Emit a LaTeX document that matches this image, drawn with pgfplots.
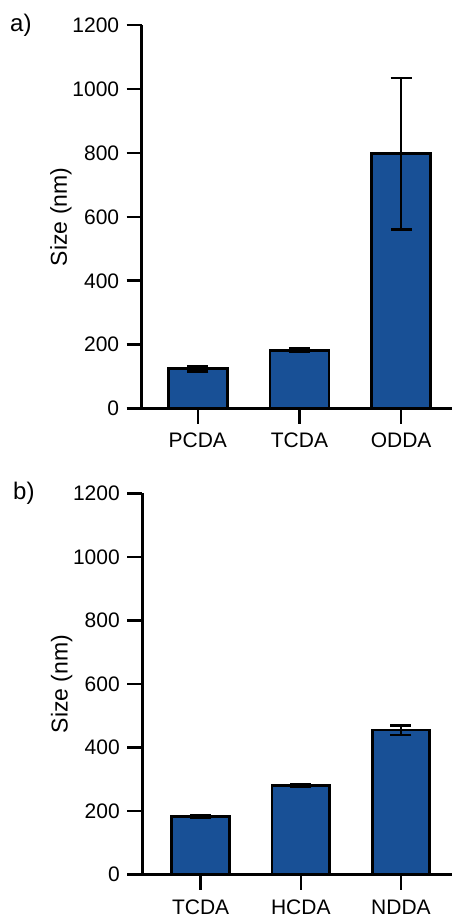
\documentclass[border=0pt]{standalone}
\usepackage{fontspec}
\setmainfont{Liberation Sans}
\usepackage{pgfplots}
\pgfplotsset{compat=1.18}
\definecolor{barblue}{RGB}{24,80,150}
\pgfplotsset{
  myaxis/.style={
    scale only axis,
    axis x line*=bottom, axis y line*=left,
    axis line style={line width=2.8pt,-},
    ymin=0, ymax=1200, ytick={0,200,...,1200},
    xtick={0,1,2},
    tick align=outside, major tick length=15pt,
    tick style={line width=2.6pt,black},
    ybar,
    font=\fontsize{21}{25}\selectfont,
    /pgf/number format/assume math mode=true,
    /pgf/number format/1000 sep={},
    yticklabel style={xshift=-4pt},
    xticklabel style={yshift=-6pt},
    ylabel={Size (nm)},
    every axis y label/.style={at={(axis description cs:-0.26,0.5)},rotate=90,anchor=center,font=\fontsize{23}{27}\selectfont},
  },
  mybar/.style={fill=barblue, draw=black, line width=2.8pt,
    error bars/.cd, y dir=both, y explicit,
    error bar style={line width=2.4pt,black},
    error mark options={rotate=90,mark size=10.5pt,line width=2.4pt,black}},
}
\begin{document}
\begin{tikzpicture}
\path[use as bounding box] (0,0) rectangle (452pt,918pt);
\begin{axis}[myaxis, at={(141.7pt,509.3pt)}, anchor=south west,
  width=310.3pt, height=383.7pt, xmin=-0.552, xmax=2.5, bar width=0.58,
  xticklabels={PCDA,TCDA,ODDA}]
\addplot[mybar] coordinates {(0,125) +- (0,9) (1,183) +- (0,5) (2,798) +- (0,237)};
\end{axis}
\begin{axis}[myaxis, at={(142.3pt,43.3pt)}, anchor=south west,
  width=309.7pt, height=381.4pt, xmin=-0.583, xmax=2.51, bar width=0.575,
  xticklabels={TCDA,HCDA,NDDA}, xticklabel style={yshift=-1pt}]
\addplot[mybar] coordinates {(0,183) +- (0,4) (1,280) +- (0,4) (2,455) +- (0,15)};
\end{axis}
\node[anchor=west,inner sep=0pt,font=\fontsize{24}{28}\selectfont] at (10pt,893pt) {a)};
\node[anchor=west,inner sep=0pt,font=\fontsize{24}{28}\selectfont] at (13pt,425pt) {b)};
\end{tikzpicture}
\end{document}
